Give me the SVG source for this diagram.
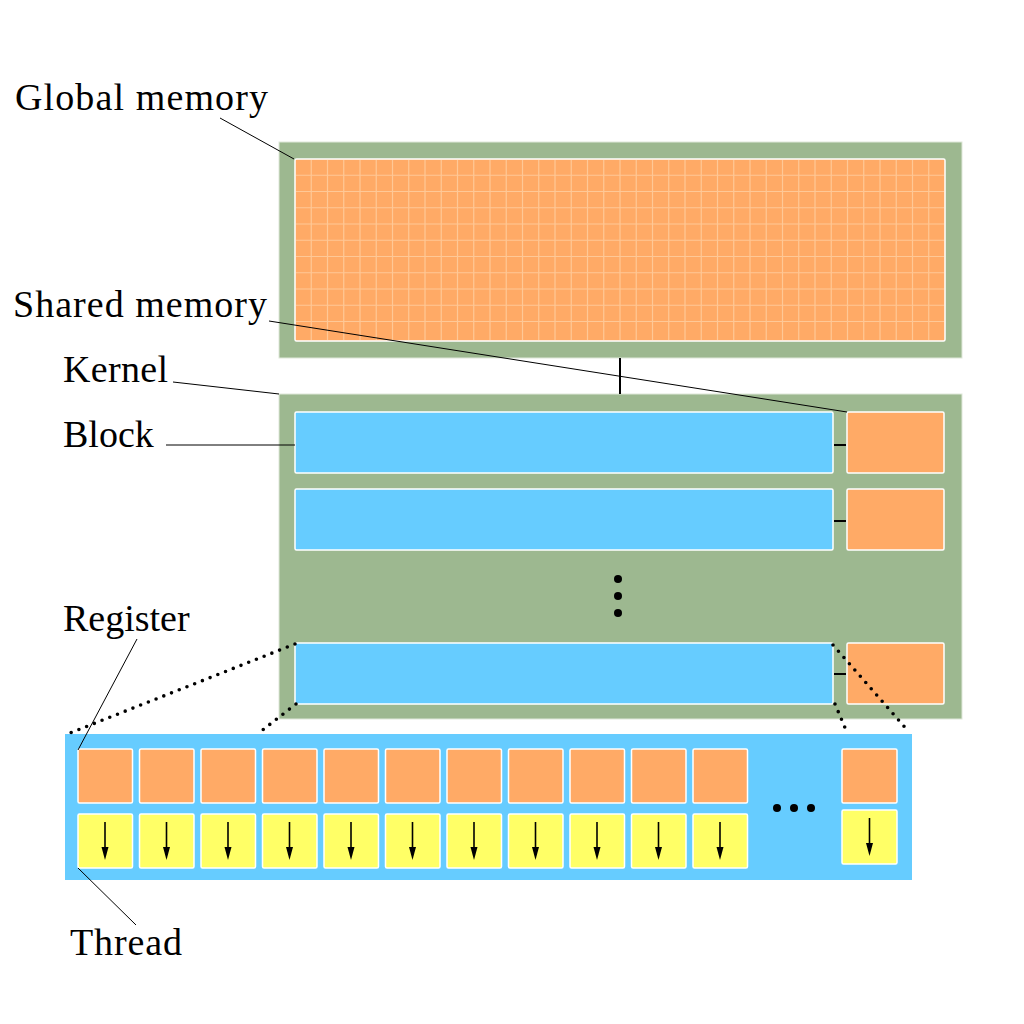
<svg xmlns="http://www.w3.org/2000/svg" xmlns:xlink="http://www.w3.org/1999/xlink" width="1024" height="1024" viewBox="0 0 1024 1024">
<style>
.green{fill:#9db890;stroke:#dfe8da;stroke-width:1}
.orange{fill:#ffaa66;stroke:#ffffff;stroke-width:1.5}
.blue{fill:#66ccff;stroke:#ffffff;stroke-width:1.5}
.yellow{fill:#ffff66;stroke:#ffffff;stroke-width:1.5}
.panel{fill:#66ccff}
.grid{stroke:#ffc896;stroke-width:1.2;fill:none}
.lead{stroke:#000;stroke-width:1;fill:none}
.tick{stroke:#000;stroke-width:2;fill:none}
.dots{stroke:#000;stroke-width:3.6;stroke-linecap:round;stroke-dasharray:0 8.3;fill:none}
.lbl{font-family:"Liberation Serif","Times New Roman",serif;font-size:38px;fill:#000}
</style>
<defs>
<g id="arrow"><line x1="0" y1="0" x2="0" y2="27" stroke="#000" stroke-width="1.6"/><polygon points="-3.5,25 3.5,25 0,38" fill="#000"/></g>
</defs>
<rect width="1024" height="1024" fill="#fff"/>

<g id="global-memory">
<rect class="green" x="279" y="142" width="683" height="216"/>
<rect class="orange" x="295" y="159" width="650" height="182" rx="1.5"/>
<path class="grid" d="M311.25 160V340M327.5 160V340M343.75 160V340M360 160V340M376.25 160V340M392.5 160V340M408.75 160V340M425 160V340M441.25 160V340M457.5 160V340M473.75 160V340M490 160V340M506.25 160V340M522.5 160V340M538.75 160V340M555 160V340M571.25 160V340M587.5 160V340M603.75 160V340M620 160V340M636.25 160V340M652.5 160V340M668.75 160V340M685 160V340M701.25 160V340M717.5 160V340M733.75 160V340M750 160V340M766.25 160V340M782.5 160V340M798.75 160V340M815 160V340M831.25 160V340M847.5 160V340M863.75 160V340M880 160V340M896.25 160V340M912.5 160V340M928.75 160V340M296 175.25H944M296 191.5H944M296 207.75H944M296 224H944M296 240.25H944M296 256.5H944M296 272.75H944M296 289H944M296 305.25H944M296 321.5H944"/>
</g>

<g id="kernel">
<rect class="green" x="279" y="394" width="683" height="325"/>
<circle cx="618" cy="579" r="4" fill="#000"/>
<circle cx="618" cy="596" r="4" fill="#000"/>
<circle cx="618" cy="613" r="4" fill="#000"/>
</g>

<g id="block-1"><rect class="blue" x="295" y="412" width="538" height="61" rx="1.5"/></g>
<g id="shared-1"><rect class="orange" x="847" y="412" width="97" height="61" rx="1.5"/></g>
<g id="block-2"><rect class="blue" x="295" y="489" width="538" height="61" rx="1.5"/></g>
<g id="shared-2"><rect class="orange" x="847" y="489" width="97" height="61" rx="1.5"/></g>
<g id="block-3"><rect class="blue" x="295" y="643" width="538" height="61" rx="1.5"/></g>
<g id="shared-3"><rect class="orange" x="847" y="643" width="97" height="61" rx="1.5"/></g>

<g id="block-detail">
<rect class="panel" x="65" y="734" width="847" height="146"/>
<circle cx="777" cy="808" r="4" fill="#000"/>
<circle cx="794" cy="808" r="4" fill="#000"/>
<circle cx="811" cy="808" r="4" fill="#000"/>
</g>

<g id="registers">
<rect class="orange" x="78" y="749" width="54.5" height="54" rx="1.5"/>
<rect class="orange" x="139.5" y="749" width="54.5" height="54" rx="1.5"/>
<rect class="orange" x="201" y="749" width="54.5" height="54" rx="1.5"/>
<rect class="orange" x="262.5" y="749" width="54.5" height="54" rx="1.5"/>
<rect class="orange" x="324" y="749" width="54.5" height="54" rx="1.5"/>
<rect class="orange" x="385.5" y="749" width="54.5" height="54" rx="1.5"/>
<rect class="orange" x="447" y="749" width="54.5" height="54" rx="1.5"/>
<rect class="orange" x="508.5" y="749" width="54.5" height="54" rx="1.5"/>
<rect class="orange" x="570" y="749" width="54.5" height="54" rx="1.5"/>
<rect class="orange" x="631.5" y="749" width="54.5" height="54" rx="1.5"/>
<rect class="orange" x="693" y="749" width="54.5" height="54" rx="1.5"/>
<rect class="orange" x="842" y="749" width="55" height="54" rx="1.5"/>
</g>

<g id="threads">
<rect class="yellow" x="78" y="814" width="54.5" height="54" rx="1.5"/>
<rect class="yellow" x="139.5" y="814" width="54.5" height="54" rx="1.5"/>
<rect class="yellow" x="201" y="814" width="54.5" height="54" rx="1.5"/>
<rect class="yellow" x="262.5" y="814" width="54.5" height="54" rx="1.5"/>
<rect class="yellow" x="324" y="814" width="54.5" height="54" rx="1.5"/>
<rect class="yellow" x="385.5" y="814" width="54.5" height="54" rx="1.5"/>
<rect class="yellow" x="447" y="814" width="54.5" height="54" rx="1.5"/>
<rect class="yellow" x="508.5" y="814" width="54.5" height="54" rx="1.5"/>
<rect class="yellow" x="570" y="814" width="54.5" height="54" rx="1.5"/>
<rect class="yellow" x="631.5" y="814" width="54.5" height="54" rx="1.5"/>
<rect class="yellow" x="693" y="814" width="54.5" height="54" rx="1.5"/>
<rect class="yellow" x="842" y="810" width="55" height="54" rx="1.5"/>
<use xlink:href="#arrow" x="105" y="822"/>
<use xlink:href="#arrow" x="166.5" y="822"/>
<use xlink:href="#arrow" x="228" y="822"/>
<use xlink:href="#arrow" x="289.5" y="822"/>
<use xlink:href="#arrow" x="351" y="822"/>
<use xlink:href="#arrow" x="412.5" y="822"/>
<use xlink:href="#arrow" x="474" y="822"/>
<use xlink:href="#arrow" x="535.5" y="822"/>
<use xlink:href="#arrow" x="597" y="822"/>
<use xlink:href="#arrow" x="658.5" y="822"/>
<use xlink:href="#arrow" x="720" y="822"/>
<use xlink:href="#arrow" x="869.5" y="818"/>
</g>

<g id="connectors">
<line class="tick" x1="620" y1="358" x2="620" y2="394"/>
<line class="tick" x1="834" y1="445" x2="846" y2="445"/>
<line class="tick" x1="834" y1="521" x2="846" y2="521"/>
<line class="tick" x1="834" y1="674" x2="846" y2="674"/>
<line class="dots" x1="295" y1="644" x2="70" y2="733"/>
<line class="dots" x1="296" y1="704" x2="260" y2="732"/>
<line class="dots" x1="833" y1="645" x2="909" y2="732"/>
<line class="dots" x1="835" y1="704" x2="846" y2="730"/>
<line class="lead" x1="220" y1="118" x2="294" y2="159"/>
<line class="lead" x1="269" y1="321" x2="847" y2="412"/>
<line class="lead" x1="173" y1="382" x2="279" y2="394"/>
<line class="lead" x1="166" y1="445" x2="295" y2="445"/>
<line class="lead" x1="137" y1="639" x2="78" y2="750"/>
<line class="lead" x1="78" y1="868" x2="136" y2="925"/>
</g>

<g id="labels">
<text class="lbl" x="15" y="110" textLength="253" lengthAdjust="spacing">Global memory</text>
<text class="lbl" x="13" y="317" textLength="254" lengthAdjust="spacing">Shared memory</text>
<text class="lbl" x="63" y="382" textLength="105" lengthAdjust="spacing">Kernel</text>
<text class="lbl" x="63" y="447">Block</text>
<text class="lbl" x="63" y="631">Register</text>
<text class="lbl" x="70" y="955" textLength="112" lengthAdjust="spacing">Thread</text>
</g>
</svg>
